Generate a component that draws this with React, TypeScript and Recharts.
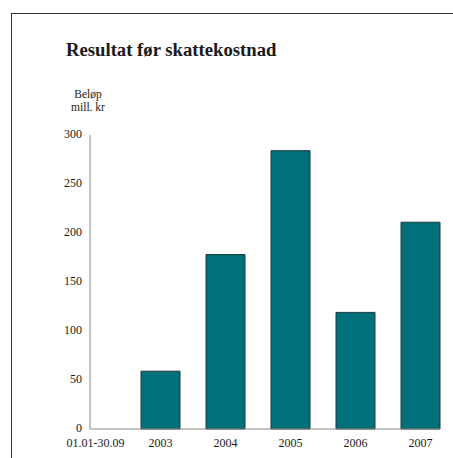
import { BarChart, Bar, XAxis, YAxis } from 'recharts'

const periods = ['01.01-30.09', '2003', '2004', '2005', '2006', '2007']
const resultat: (number | null)[] = [null, 59, 178, 284, 119, 211]
const yTicks = [0, 50, 100, 150, 200, 250, 300]
const unitLines = ['Beløp', 'mill. kr']

const serif = '"Liberation Serif", "Times New Roman", serif'

const data = periods.map((period, i) => ({ period, value: resultat[i] }))

export default function App() {
  return (
    <div
      style={{
        position: 'absolute',
        left: 0,
        top: 0,
        width: 453,
        height: 458,
        background: '#fff',
        overflow: 'hidden',
        fontFamily: serif,
      }}
    >
      {/* frame */}
      <div
        style={{
          position: 'absolute',
          left: 11,
          top: 13,
          width: 460,
          height: 460,
          borderTop: '1px solid #333',
          borderLeft: '1px solid #333',
        }}
      />
      <div
        style={{
          position: 'absolute',
          left: 66,
          top: 40,
          fontSize: 18.7,
          lineHeight: '20px',
          fontWeight: 'bold',
          color: '#1a1a1a',
          whiteSpace: 'nowrap',
        }}
      >
        Resultat før skattekostnad
      </div>
      {unitLines.map((line, i) => (
        <div
          key={line}
          style={{
            position: 'absolute',
            left: 58,
            top: 88 + i * 12.5,
            width: 60,
            textAlign: 'center',
            fontSize: 11.5,
            lineHeight: '12px',
            color: '#1a1a1a',
          }}
        >
          {line}
        </div>
      ))}
      <div style={{ position: 'absolute', left: 0, top: 0 }}>
        <BarChart
          width={453}
          height={458}
          data={data}
          margin={{ top: 135, right: 13, bottom: 9, left: 50 }}
        >
          <XAxis
            dataKey="period"
            scale="point"
            padding={{ left: 5.5, right: 19.5 }}
            height={20}
            axisLine={{ stroke: '#888' }}
            tickLine={false}
            tickMargin={3}
            interval={0}
            tick={{ fill: '#1a1a1a', fontSize: 12, fontFamily: serif }}
          />
          <YAxis
            width={40}
            domain={[0, 300]}
            ticks={yTicks}
            axisLine={{ stroke: '#888' }}
            tickLine={false}
            tick={{ fill: '#1a1a1a', fontSize: 12, fontFamily: serif, dy: -1 }}
          />
          <Bar
            dataKey="value"
            barSize={39}
            fill="#00707a"
            stroke="#203838"
            strokeWidth={1}
            isAnimationActive={false}
          />
        </BarChart>
      </div>
    </div>
  )
}
